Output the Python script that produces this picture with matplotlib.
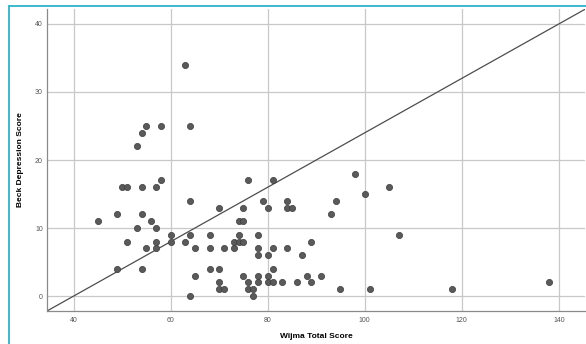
import matplotlib
matplotlib.use("Agg")
import matplotlib.pyplot as plt
from matplotlib.lines import Line2D

# Wijma total score vs Beck depression score
wijma = [45, 49, 49, 50, 51, 51, 53, 53, 54, 54, 54, 54, 55, 55, 56, 57, 57, 57, 57,
         58, 58, 60, 60, 63, 63, 64, 64, 64, 64, 65, 65, 68, 68, 68, 70, 70, 70, 70,
         71, 71, 73, 73, 74, 75, 74, 74, 75, 75, 75, 76, 76, 76, 77, 77, 78, 78, 78,
         78, 78, 79, 80, 80, 80, 80, 81, 81, 81, 81, 83, 84, 84, 85, 84, 86, 87, 88,
         89, 89, 91, 93, 94, 95, 98, 100, 101, 105, 107, 118, 138]
beck = [11, 12, 4, 16, 16, 8, 22, 10, 24, 16, 12, 4, 25, 7, 11, 16, 10, 8, 7,
        25, 17, 9, 8, 34, 8, 25, 14, 9, 0, 7, 3, 9, 7, 4, 13, 4, 2, 1,
        1, 7, 8, 7, 11, 11, 9, 8, 8, 13, 3, 17, 2, 1, 1, 0, 9, 7, 6,
        3, 2, 14, 13, 6, 3, 2, 17, 7, 4, 2, 2, 14, 13, 13, 7, 2, 6, 3,
        8, 2, 3, 12, 14, 1, 18, 15, 1, 16, 9, 1, 2]

x_ticks = [40, 60, 80, 100, 120, 140]
y_ticks = [0, 10, 20, 30, 40]

# reference line
line_slope = 0.4
line_intercept = -16

plt.rcParams["font.family"] = ["Liberation Sans", "DejaVu Sans"]

fig = plt.figure(figsize=(5.86, 3.44), dpi=100)
ax = fig.add_axes([47 / 586, 33 / 344, 538 / 586, 302 / 344])

ax.set_xlim(34.5, 145.4)
ax.set_ylim(-2.2, 42.2)
ax.set_xticks(x_ticks)
ax.set_yticks(y_ticks)
ax.grid(True, color="#c8c8c8", lw=0.9)
ax.set_axisbelow(True)

ax.axline((0, line_intercept), slope=line_slope, color="#4d4d4d", lw=0.9, zorder=2)
ax.scatter(wijma, beck, s=20, facecolor="#5a5a5a", edgecolor="#3c3c3c",
           linewidth=0.5, zorder=3)

for side in ["top", "right"]:
    ax.spines[side].set_visible(False)
for side in ["left", "bottom"]:
    ax.spines[side].set_color("#8a8a8a")
    ax.spines[side].set_linewidth(0.9)

ax.tick_params(length=0, labelsize=5, labelcolor="#555555")
ax.tick_params(axis="x", pad=4)
ax.tick_params(axis="y", pad=3)

ax.set_xlabel("Wijma Total Score", fontsize=6, fontweight="bold", labelpad=7)
ax.set_ylabel("Beck Depression Score", fontsize=6, fontweight="bold", labelpad=8)

# cyan frame edge from the original screenshot
fig.add_artist(Line2D([8.5 / 586, 8.5 / 586], [0, 1 - 5.5 / 344],
                      transform=fig.transFigure, color="#3bb8d0", lw=1.4))
fig.add_artist(Line2D([8.5 / 586, 1], [1 - 5.5 / 344, 1 - 5.5 / 344],
                      transform=fig.transFigure, color="#3bb8d0", lw=1.4))

fig.savefig("out.png", dpi=100)
